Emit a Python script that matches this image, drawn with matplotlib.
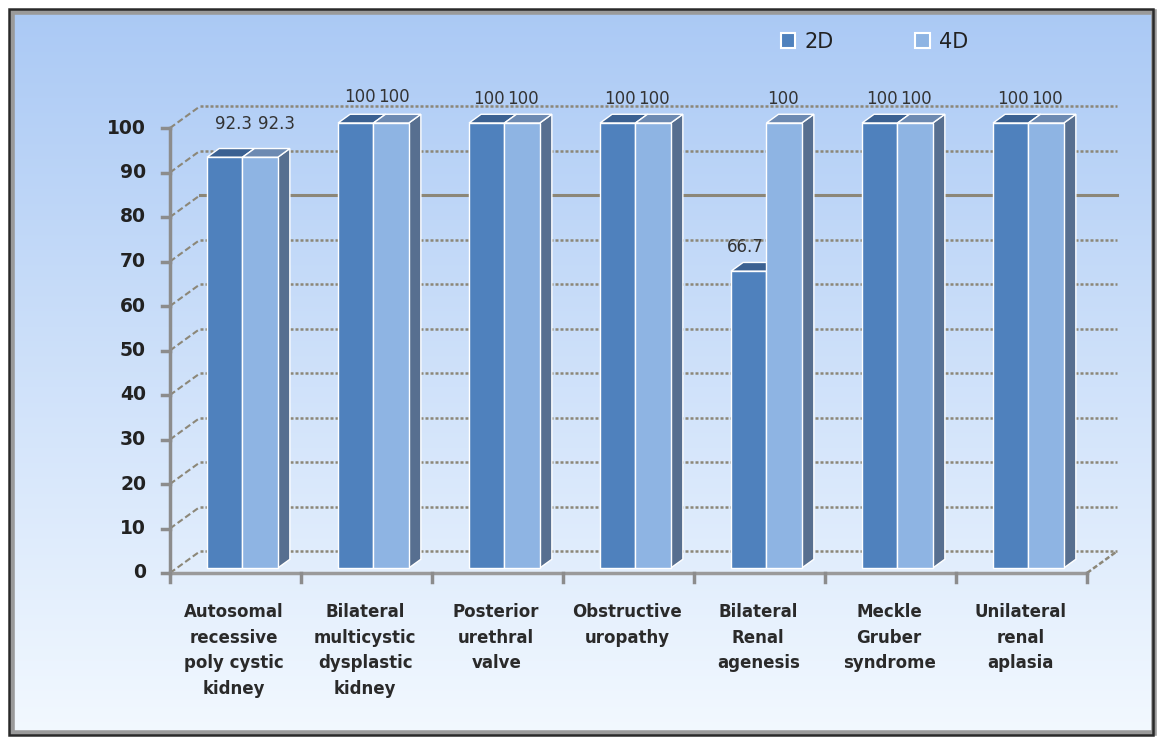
import numpy as np
import matplotlib
matplotlib.use("Agg")
import matplotlib.pyplot as plt
from matplotlib.patches import Polygon, Rectangle, Patch

# data
categories = ["Autosomal\nrecessive\npoly cystic\nkidney",
              "Bilateral\nmulticystic\ndysplastic\nkidney",
              "Posterior\nurethral\nvalve",
              "Obstructive\nuropathy",
              "Bilateral\nRenal\nagenesis",
              "Meckle\nGruber\nsyndrome",
              "Unilateral\nrenal\naplasia"]
vals_2d = [92.3, 100, 100, 100, 66.7, 100, 100]
vals_4d = [92.3, 100, 100, 100, 100, 100, 100]
yticks = np.arange(0, 101, 10)

# label nudges in pixels (2D, 4D) per category
nudge_2d = [(9, 9), (4, 2), (2, 0), (2, 0), (-3, 0), (2, 0), (2, 0)]
nudge_4d = [(16, 9), (3, 2), (1, 0), (1, 0), (-1, 0), (1, 0), (1, 0)]

# styles
C2D, C4D = "#4f81bd", "#8eb4e3"
TOP2D, TOP4D = "#3b6192", "#6d8ab2"
SIDE = "#576f90"
GRID = "#8c8778"
DX, DY = 0.23, 4.9          # depth of the back wall in data units
Z0, Z1 = 0.23, 0.63         # bar depth (fraction of full depth)
BW = 0.27                   # bar width

W, H = 1162, 741
fig = plt.figure(figsize=(W / 100, H / 100), dpi=100)

# background + frame
bg = fig.add_axes([0, 0, 1, 1])
bg.set_xlim(0, W)
bg.set_ylim(H, 0)
bg.axis("off")
grad = np.linspace(0, 1, 256).reshape(-1, 1)
top_c = np.array([0.67, 0.79, 0.96])
bot_c = np.array([0.95, 0.975, 1.0])
img = top_c + (bot_c - top_c) * grad[..., None]
img = np.repeat(img, 2, axis=1)
bg.imshow(img, extent=(12, W - 8, H - 8, 12), aspect="auto", zorder=0)
bg.add_patch(Rectangle((12, 12), W - 20, H - 20, fill=False, ec="#9a9a9a", lw=4, zorder=1))
bg.add_patch(Rectangle((9, 9), W - 18, H - 15, fill=False, ec="#2a2a2a", lw=1.8, zorder=2))

ax = fig.add_axes([170 / W, (H - 573) / H, 917 / W, 445 / H])
ax.set_xlim(0, 7)
ax.set_ylim(0, 100)
ax.patch.set_alpha(0)
ax.axis("off")

# back wall gridlines and left wall diagonals
for v in yticks:
    ls = "-" if v == 80 else (0, (1.2, 0.8))
    ax.plot([DX, 7 + DX], [v + DY, v + DY], color=GRID, lw=2.2 if v == 80 else 1.8,
            ls=ls, clip_on=False, zorder=1)
    ax.plot([0, DX], [v, v + DY], color=GRID, lw=1.5, ls=(0, (3, 1.5)), clip_on=False, zorder=1)
    ax.plot([-0.06, 0], [v, v], color="#8c8c8c", lw=2.5, clip_on=False, zorder=2)
    ax.annotate(f"{v}", xy=(0, v), xytext=(-24, 0), textcoords="offset pixels",
                ha="right", va="center", fontsize=13.5, fontweight="bold", color="#222222",
                annotation_clip=False)

# y axis and floor edges
ax.plot([0, 0], [0, 100], color="#8c8c8c", lw=2.5, clip_on=False, zorder=2)
ax.plot([0, 7], [0, 0], color="#9a9a9a", lw=2.5, clip_on=False, zorder=2)
ax.plot([7, 7 + DX], [0, DY], color=GRID, lw=1.8, ls=(0, (2, 1)), clip_on=False, zorder=2)
for i in range(8):
    ax.plot([i, i], [0, -2.0], color="#8c8c8c", lw=2.5, clip_on=False, zorder=2)


def draw_bar(x0, v, face, top):
    fx, fy = Z0 * DX, Z0 * DY
    bx, by = Z1 * DX, Z1 * DY
    front = [(x0 + fx, fy), (x0 + BW + fx, fy), (x0 + BW + fx, v + fy), (x0 + fx, v + fy)]
    topf = [(x0 + fx, v + fy), (x0 + BW + fx, v + fy), (x0 + BW + bx, v + by), (x0 + bx, v + by)]
    side = [(x0 + BW + fx, fy), (x0 + BW + bx, by), (x0 + BW + bx, v + by), (x0 + BW + fx, v + fy)]
    for pts, col in ((side, SIDE), (topf, top), (front, face)):
        ax.add_patch(Polygon(pts, closed=True, fc=col, ec="white", lw=1.0,
                             clip_on=False, zorder=3))
    return x0 + BW / 2 + fx, v + fy


for i in range(len(categories)):
    left = i + 0.5 - BW
    cx, cy = draw_bar(left, vals_2d[i], C2D, TOP2D)
    ax.annotate(f"{vals_2d[i]:g}", xy=(cx, cy), xytext=(nudge_2d[i][0], 24 + nudge_2d[i][1]),
                textcoords="offset pixels", ha="center", va="center",
                fontsize=12, color="#333333", zorder=5, annotation_clip=False)
    cx, cy = draw_bar(left + BW, vals_4d[i], C4D, TOP4D)
    ax.annotate(f"{vals_4d[i]:g}", xy=(cx, cy), xytext=(nudge_4d[i][0], 24 + nudge_4d[i][1]),
                textcoords="offset pixels", ha="center", va="center",
                fontsize=12, color="#333333", zorder=5, annotation_clip=False)
    ax.annotate(categories[i], xy=(i + 0.49, 0), xytext=(0, -30), textcoords="offset pixels",
                ha="center", va="top", fontsize=12, fontweight="bold", color="#2a2a2a",
                linespacing=1.55, annotation_clip=False)

handles = [Patch(fc=C2D, ec="white", lw=1.5, label="2D"),
           Patch(fc=C4D, ec="white", lw=1.5, label="4D")]
ax.legend(handles=handles, ncol=2, loc="center left", frameon=False,
          bbox_to_anchor=(762 / W, 1 - 42 / H), bbox_transform=fig.transFigure,
          handlelength=0.7, handleheight=0.7, handletextpad=0.45,
          columnspacing=3.9, fontsize=15, labelcolor="#222222")

fig.savefig("out.png", dpi=100)
